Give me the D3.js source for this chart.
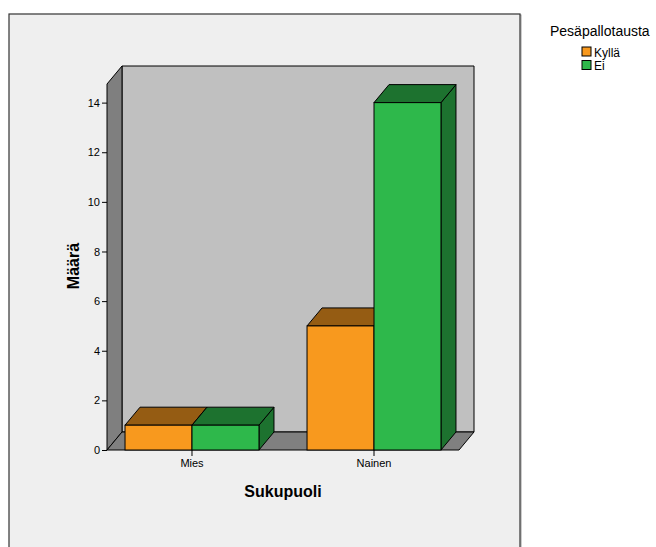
<!DOCTYPE html>
<html>
<head>
<meta charset="utf-8">
<script src="https://cdn.jsdelivr.net/npm/d3@7"></script>
<style>
  html, body { margin: 0; padding: 0; background: #ffffff; }
  svg { display: block; font-family: "Liberation Sans", Arial, sans-serif; }
</style>
</head>
<body>
<script>
// Counts by gender (Sukupuoli) and baseball background (Pesäpallotausta)
const categories = ["Mies", "Nainen"];
const seriesNames = ["Kyllä", "Ei"];
const kyllaValues = [1, 5];
const eiValues = [1, 14];
const yTicks = [0, 2, 4, 6, 8, 10, 12, 14];
const yMax = 14.75;

const seriesColors = ["#f8991e", "#2eb84b"];
const seriesDark = ["#955c13", "#1d722f"];

const W = 656, H = 547;
const svg = d3.select("body").append("svg").attr("width", W).attr("height", H);

// Outer panel
svg.append("rect").attr("x", 0).attr("y", 0).attr("width", W).attr("height", H).attr("fill", "#ffffff");
svg.append("rect").attr("x", 10).attr("y", 15).attr("width", 511).attr("height", 560)
  .attr("fill", "none").attr("stroke", "#999").attr("stroke-width", 1);
svg.append("rect").attr("x", 9).attr("y", 14).attr("width", 511).attr("height", 560)
  .attr("fill", "#efefef").attr("stroke", "#333").attr("stroke-width", 1.2);

// Front-plane scales and depth offset of the 3D box
const x0 = 107, x1 = 459;
const dx = 15, dy = 18;
const x = d3.scaleBand().domain(categories).range([x0, x1])
  .paddingInner(0.264).paddingOuter(0.099);
const xs = d3.scaleBand().domain(seriesNames).range([0, x.bandwidth()]).padding(0);
const y = d3.scaleLinear().domain([0, yMax]).range([450, 84]);

const line = d3.line();
const yTop = y(yMax), yBase = y(0);

// Back wall
svg.append("path")
  .attr("d", line([[x0 + dx, yTop - dy], [x1 + dx, yTop - dy], [x1 + dx, yBase - dy], [x0 + dx, yBase - dy]]) + "Z")
  .attr("fill", "#c0c0c0").attr("stroke", "#000").attr("stroke-width", 1);
// Left wall
svg.append("path")
  .attr("d", line([[x0, yTop], [x0 + dx, yTop - dy], [x0 + dx, yBase - dy], [x0, yBase]]) + "Z")
  .attr("fill", "#7f7f7f").attr("stroke", "#000").attr("stroke-width", 1);
// Floor
svg.append("path")
  .attr("d", line([[x0, yBase], [x0 + dx, yBase - dy], [x1 + dx, yBase - dy], [x1, yBase]]) + "Z")
  .attr("fill", "#808080").attr("stroke", "#000").attr("stroke-width", 1);

// Bars
const seriesValues = [kyllaValues, eiValues];
const barData = [];
categories.forEach((c, i) => {
  seriesNames.forEach((s, j) => {
    barData.push({ cat: c, ser: s, j: j, value: seriesValues[j][i] });
  });
});

const bars = svg.append("g").selectAll("g").data(barData).join("g");
bars.each(function (d) {
  const g = d3.select(this);
  const bx = x(d.cat) + xs(d.ser), bw = xs.bandwidth();
  const ty = y(d.value), by = y(0);
  // right side
  g.append("path")
    .attr("d", line([[bx + bw, ty], [bx + bw + dx, ty - dy], [bx + bw + dx, by - dy], [bx + bw, by]]) + "Z")
    .attr("fill", seriesDark[d.j]).attr("stroke", "#000").attr("stroke-width", 1).attr("stroke-linejoin", "round");
  // top
  g.append("path")
    .attr("d", line([[bx, ty], [bx + dx, ty - dy], [bx + bw + dx, ty - dy], [bx + bw, ty]]) + "Z")
    .attr("fill", seriesDark[d.j]).attr("stroke", "#000").attr("stroke-width", 1).attr("stroke-linejoin", "round");
  // front
  g.append("rect")
    .attr("x", bx).attr("y", ty).attr("width", bw).attr("height", by - ty)
    .attr("fill", seriesColors[d.j]).attr("stroke", "#000").attr("stroke-width", 1);
});

// Y axis
const yAxis = svg.append("g").attr("transform", `translate(${x0},0)`)
  .call(d3.axisLeft(y).tickValues(yTicks).tickSize(5).tickSizeOuter(0).tickPadding(2));
yAxis.select(".domain").remove();
yAxis.selectAll("line").attr("stroke", "#000");
yAxis.selectAll("text").attr("font-size", 11).attr("fill", "#000")
  .attr("font-family", "Liberation Sans, Arial, sans-serif");

// X axis
const xAxis = svg.append("g").attr("transform", `translate(0,${yBase})`)
  .call(d3.axisBottom(x).tickSize(6).tickSizeOuter(0).tickPadding(3));
xAxis.select(".domain").remove();
xAxis.selectAll("line").attr("stroke", "#000");
xAxis.selectAll("text").attr("font-size", 11).attr("fill", "#000")
  .attr("font-family", "Liberation Sans, Arial, sans-serif");

// Axis titles
svg.append("text").attr("x", 283).attr("y", 497).attr("text-anchor", "middle")
  .attr("font-size", 16).attr("font-weight", "bold").attr("fill", "#000").text("Sukupuoli");
svg.append("text").attr("transform", "translate(79,266) rotate(-90)").attr("text-anchor", "middle")
  .attr("font-size", 16).attr("font-weight", "bold").attr("fill", "#000").text("Määrä");

// Legend
const legend = svg.append("g");
legend.append("text").attr("x", 550).attr("y", 36).attr("font-size", 14).attr("fill", "#000")
  .text("Pesäpallotausta");
const li = legend.selectAll("g.item").data(seriesNames).join("g").attr("class", "item")
  .attr("transform", (d, i) => `translate(582,${47 + i * 13.5})`);
li.append("rect").attr("x", 0).attr("y", 0).attr("width", 9).attr("height", 9)
  .attr("fill", (d, i) => seriesColors[i]).attr("stroke", "#000").attr("stroke-width", 1);
li.append("text").attr("x", 12).attr("y", 9.5).attr("font-size", 12).attr("fill", "#000").text(d => d);
</script>
</body>
</html>
